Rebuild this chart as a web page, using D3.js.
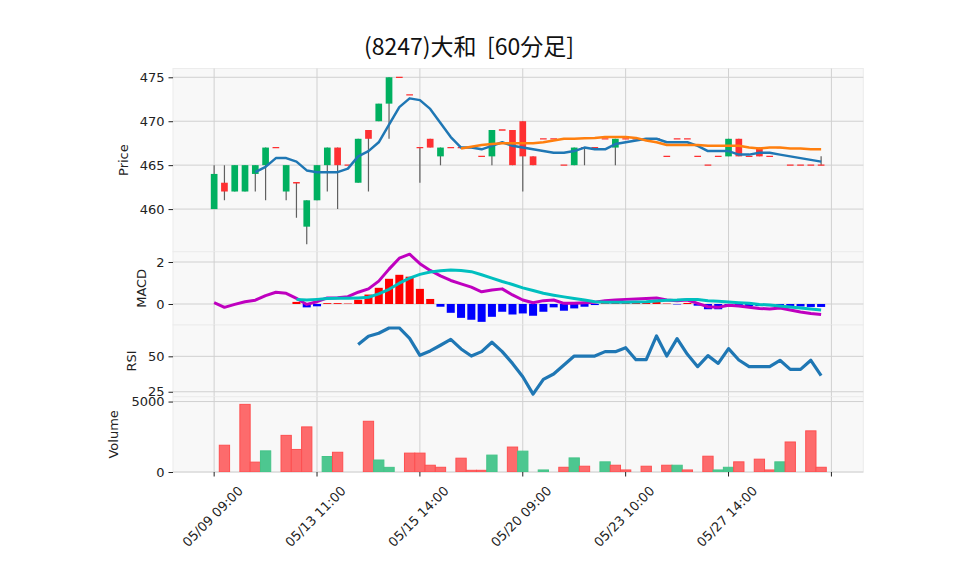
<!DOCTYPE html>
<html>
<head>
<meta charset="utf-8">
<script src="https://cdn.jsdelivr.net/npm/d3@7"></script>
<style>
  html, body { margin: 0; padding: 0; background: #ffffff; }
  svg { display: block; }
</style>
</head>
<body>
<svg id="chart" width="958" height="575"></svg>
<script>
// ---------------- DATA ----------------
const title = "(8247)大和  [60分足]";
const opens  = [460,463,462,462,464,465,467,462,463,458, 461,465,467,465,463,469,470,472,475,473, 467,468,466,467,467,467,466,466,469,469, 470,466,468,468,465,465,467,467,468,467, 468,468,468,468,466,468,468,466,465,466, 466,468,466,467,466,467,465,465,465,465];
const highs  = [465,465,465,465,465,467,467,465,463,461, 465,467,467,465,468,469,472,475,475,473, 467,468,467,467,467,467,466,469,469,469, 470,466,468,468,465,467,467,467,468,468, 468,468,468,468,466,468,468,466,465,466, 468,468,466,467,466,467,465,465,465,466];
const lows   = [460,461,462,462,462,461,467,461,459,456, 461,462,460,465,463,462,470,468,475,473, 463,467,465,467,467,467,466,465,469,465, 462,465,468,468,465,465,465,467,468,465, 468,468,468,468,466,468,468,466,465,466, 466,466,466,466,466,467,465,465,465,465];
const closes = [464,462,465,465,465,467,467,465,463,461, 465,467,465,465,468,468,472,475,475,473, 467,467,467,467,467,467,466,469,469,465, 466,465,468,468,465,467,467,467,468,468, 468,468,468,468,466,468,468,466,465,466, 468,466,466,466,466,467,465,465,465,465];
const volumes = [0,1900,0,4800,700,1500,0,2600,1600,3200, 0,1100,1400,0,0,3600,850,330,0,1340, 1340,480,335,0,980,120,120,1200,0,1770, 1480,0,145,0,335,1000,410,0,720,480, 145,0,410,0,480,480,145,0,1120,145, 335,720,0,910,145,720,2130,0,2920,335];
const ma5 = [null,null,null,null,464.2,464.8,465.8,465.8,465.4,464.4, 464.2,464.2,464.2,464.6,466.0,466.6,467.6,469.6,471.6,472.6, 472.4,471.4,469.8,468.2,467.0,467.0,466.8,467.2,467.6,467.2, 467.0,466.8,466.6,466.4,466.4,466.6,467.0,466.8,466.8,467.4, 467.6,467.8,468.0,468.0,467.6,467.6,467.6,467.2,466.6,466.6, 466.6,466.2,466.2,466.4,466.4,466.2,466.0,465.8,465.6,465.4];
const ma25 = [null,null,null,null,null,null,null,null,null,null, null,null,null,null,null,null,null,null,null,null, null,null,null,null,466.9,467.1,467.3,467.4,467.5,467.5, 467.5,467.5,467.6,467.8,468.0,468.0,468.05,468.1,468.2,468.2, 468.2,468.1,467.8,467.6,467.3,467.3,467.3,467.3,467.2,467.2, 467.2,467.2,467.0,466.9,467.0,467.0,466.9,466.9,466.8,466.8];
const macdLine = [0.06,-0.16,-0.02,0.11,0.18,0.40,0.56,0.51,0.27,-0.02, 0.11,0.29,0.30,0.35,0.56,0.72,1.09,1.66,2.18,2.37, 1.92,1.60,1.34,1.12,0.96,0.80,0.58,0.67,0.72,0.43, 0.19,0.06,0.16,0.19,0.03,0.03,0.06,0.08,0.16,0.19, 0.22,0.24,0.26,0.29,0.19,0.16,0.19,0.03,-0.13,-0.16, -0.06,-0.10,-0.16,-0.21,-0.24,-0.19,-0.29,-0.38,-0.45,-0.50];
const signalLine = [null,null,null,null,null,null,null,null,0.22,0.19, 0.22,0.26,0.27,0.27,0.29,0.32,0.48,0.70,0.99,1.23, 1.41,1.52,1.58,1.62,1.60,1.54,1.39,1.23,1.07,0.93, 0.77,0.64,0.51,0.42,0.34,0.26,0.19,0.11,0.08,0.08, 0.08,0.10,0.11,0.14,0.18,0.19,0.22,0.21,0.16,0.13, 0.10,0.06,0.03,-0.02,-0.05,-0.10,-0.14,-0.19,-0.24,-0.29];
const histValues = [null,null,null,null,null,null,null,null,0.10,-0.16, -0.11,0.04,0.04,0.02,0.20,0.45,0.77,1.20,1.39,1.30, 0.72,0.24,-0.13,-0.42,-0.66,-0.75,-0.85,-0.61,-0.37,-0.50, -0.45,-0.56,-0.37,-0.16,-0.32,-0.21,-0.13,-0.05,0.04,0.06, 0.08,0.08,0.08,0.10,0.02,-0.02,0.05,-0.08,-0.25,-0.25, -0.08,-0.08,-0.10,-0.10,-0.10,-0.10,-0.12,-0.12,-0.14,-0.14];
const rsiValues = [null,null,null,null,null,null,null,null,null,null, null,null,null,null,58.3,64.2,66.3,70.0,70.0,62.7, 50.7,53.8,57.8,62.0,55.2,50.2,53.3,59.9,53.3,45.0, 35.6,23.3,33.7,37.5,43.9,50.2,50.2,50.2,53.3,53.3, 56.1,47.6,47.6,64.4,50.2,62.5,51.4,42.7,50.5,45.0, 55.4,47.4,42.7,42.7,42.7,47.2,40.8,40.8,47.2,36.3];
const xTickIdx = [0,10,20,30,40,50,60];
const xTickLabels = ["05/09 09:00","05/13 11:00","05/15 14:00","05/20 09:00","05/23 10:00","05/27 14:00",""];
const priceTicks = [460,465,470,475];
const macdTicks = [0,2];
const rsiTicks = [25,50];
const volTicks = [0,5000];

// ---------------- LAYOUT ----------------
const svg = d3.select("#chart");
const L = 173, R = 863.3;
const panels = {
  price: {top: 68.5, bottom: 251.7, domain: [455.15, 476.0], ticks: priceTicks, label: "Price", lx: 123},
  macd:  {top: 251.7, bottom: 325, domain: [-1.0, 2.49], ticks: macdTicks, label: "MACD", lx: 141},
  rsi:   {top: 325, bottom: 396.7, domain: [21.5, 72.1], ticks: rsiTicks, label: "RSI", lx: 131},
  vol:   {top: 396.7, bottom: 472, domain: [0, 5344], ticks: volTicks, label: "Volume", lx: 113}
};
const font = "'DejaVu Sans', sans-serif";
const idx = d3.range(closes.length);
const x = d3.scaleLinear().domain([-4.0, 63.1]).range([L, R]);
const step = x(1) - x(0);

Object.entries(panels).forEach(([key, p]) => {
  p.y = d3.scaleLinear().domain(p.domain).range([p.bottom, p.top]);
  const g = svg.append("g");
  g.append("rect").attr("x", L).attr("y", p.top).attr("width", R - L).attr("height", p.bottom - p.top)
    .attr("fill", "#f8f8f8").attr("stroke", "#ececec").attr("stroke-width", 1);
  g.selectAll(".vg").data(xTickIdx).enter().append("line")
    .attr("x1", d => x(d)).attr("x2", d => x(d)).attr("y1", p.top).attr("y2", p.bottom)
    .attr("stroke", "#d0d0d0").attr("stroke-width", 1);
  const ax = d3.axisLeft(p.y).tickValues(p.ticks).tickSize(4.5).tickPadding(4).tickFormat(d3.format("d"));
  const axg = svg.append("g").attr("transform", `translate(${L},0)`).call(ax);
  axg.select(".domain").remove();
  axg.selectAll("text").attr("font-family", font).attr("font-size", 13).attr("fill", "#222");
  axg.selectAll("line").attr("stroke", "#222");
  g.selectAll(".hg").data(p.ticks).enter().append("line")
    .attr("x1", L).attr("x2", R).attr("y1", d => p.y(d)).attr("y2", d => p.y(d))
    .attr("stroke", "#d0d0d0").attr("stroke-width", 1);
  svg.append("text").attr("transform", `translate(${p.lx},${(p.top + p.bottom) / 2}) rotate(-90)`)
    .attr("text-anchor", "middle").attr("dominant-baseline", "central")
    .attr("font-family", font).attr("font-size", 13).attr("fill", "#222").text(p.label);
  svg.append("clipPath").attr("id", "clip-" + key).append("rect")
    .attr("x", L).attr("y", p.top).attr("width", R - L).attr("height", p.bottom - p.top);
  p.g = svg.append("g").attr("clip-path", `url(#clip-${key})`);
});

// ---------------- PRICE ----------------
const P = panels.price;
const upCol = "#00b060", downCol = "#fe3032";
const bodyW = step * 0.65;
P.g.selectAll(".wick").data(idx).enter().append("line")
  .attr("x1", i => x(i)).attr("x2", i => x(i))
  .attr("y1", i => P.y(highs[i])).attr("y2", i => P.y(lows[i]))
  .attr("stroke", "#606060").attr("stroke-width", 1.2);
P.g.selectAll(".body").data(idx.filter(i => opens[i] !== closes[i])).enter().append("rect")
  .attr("x", i => x(i) - bodyW / 2).attr("width", bodyW)
  .attr("y", i => P.y(Math.max(opens[i], closes[i])))
  .attr("height", i => Math.abs(P.y(opens[i]) - P.y(closes[i])))
  .attr("fill", i => closes[i] > opens[i] ? upCol : downCol);
P.g.selectAll(".doji").data(idx.filter(i => opens[i] === closes[i])).enter().append("line")
  .attr("x1", i => x(i) - bodyW / 2).attr("x2", i => x(i) + bodyW / 2)
  .attr("y1", i => P.y(closes[i])).attr("y2", i => P.y(closes[i]))
  .attr("stroke", downCol).attr("stroke-width", 1.3);
const priceLine = arr => d3.line().defined(i => arr[i] != null).x(i => x(i)).y(i => P.y(arr[i]));
P.g.append("path").datum(idx).attr("d", priceLine(ma5)).attr("fill", "none")
  .attr("stroke", "#1f77b4").attr("stroke-width", 2.5).attr("stroke-linejoin", "round");
P.g.append("path").datum(idx).attr("d", priceLine(ma25)).attr("fill", "none")
  .attr("stroke", "#ff7f0e").attr("stroke-width", 2.5).attr("stroke-linejoin", "round");

// ---------------- MACD ----------------
const M = panels.macd;
const histW = step * 0.78;
M.g.selectAll(".hist").data(idx.filter(i => histValues[i] != null)).enter().append("rect")
  .attr("x", i => x(i) - histW / 2).attr("width", histW)
  .attr("y", i => M.y(Math.max(0, histValues[i])))
  .attr("height", i => Math.abs(M.y(histValues[i]) - M.y(0)))
  .attr("fill", i => histValues[i] >= 0 ? "#ff0000" : "#0000ff");
const macdL = arr => d3.line().defined(i => arr[i] != null).x(i => x(i)).y(i => M.y(arr[i]));
M.g.append("path").datum(idx).attr("d", macdL(macdLine)).attr("fill", "none")
  .attr("stroke", "#bf00bf").attr("stroke-width", 3).attr("stroke-linejoin", "round");
M.g.append("path").datum(idx).attr("d", macdL(signalLine)).attr("fill", "none")
  .attr("stroke", "#00bfbf").attr("stroke-width", 3).attr("stroke-linejoin", "round");

// ---------------- RSI ----------------
const Rp = panels.rsi;
Rp.g.append("path").datum(idx)
  .attr("d", d3.line().defined(i => rsiValues[i] != null).x(i => x(i)).y(i => Rp.y(rsiValues[i])))
  .attr("fill", "none").attr("stroke", "#1f77b4").attr("stroke-width", 3.2).attr("stroke-linejoin", "round");

// ---------------- VOLUME ----------------
const V = panels.vol;
V.g.selectAll(".vol").data(idx.filter(i => volumes[i] > 0)).enter().append("rect")
  .attr("x", i => x(i) - step / 2).attr("width", step)
  .attr("y", i => V.y(volumes[i])).attr("height", i => V.y(0) - V.y(volumes[i]))
  .attr("fill", i => (i > 0 && closes[i] > closes[i - 1]) ? "#4dc790" : "#fd6b6c")
  .attr("stroke", i => (i > 0 && closes[i] > closes[i - 1]) ? "#44c488" : "#fe4f50")
  .attr("stroke-width", 1);

// ---------------- X AXIS ----------------
const xg = svg.append("g");
xg.selectAll(".xt").data(xTickIdx).enter().append("line")
  .attr("x1", d => x(d)).attr("x2", d => x(d)).attr("y1", 472).attr("y2", 476.5)
  .attr("stroke", "#222").attr("stroke-width", 1);
xg.selectAll(".xl").data(xTickIdx).enter().append("text")
  .attr("transform", d => `translate(${x(d) - 1.5},516.5) rotate(-45)`)
  .attr("text-anchor", "middle").attr("dominant-baseline", "central")
  .attr("font-family", font).attr("font-size", 13).attr("fill", "#222")
  .text((d, k) => xTickLabels[k]);

// ---------------- TITLE ----------------
svg.append("text").attr("x", 469).attr("y", 45).attr("text-anchor", "middle")
  .attr("dominant-baseline", "central").style("white-space", "pre")
  .attr("font-family", "'Noto Sans CJK JP', 'DejaVu Sans', sans-serif").attr("font-size", 23)
  .attr("fill", "#111").text(title);
</script>
</body>
</html>
